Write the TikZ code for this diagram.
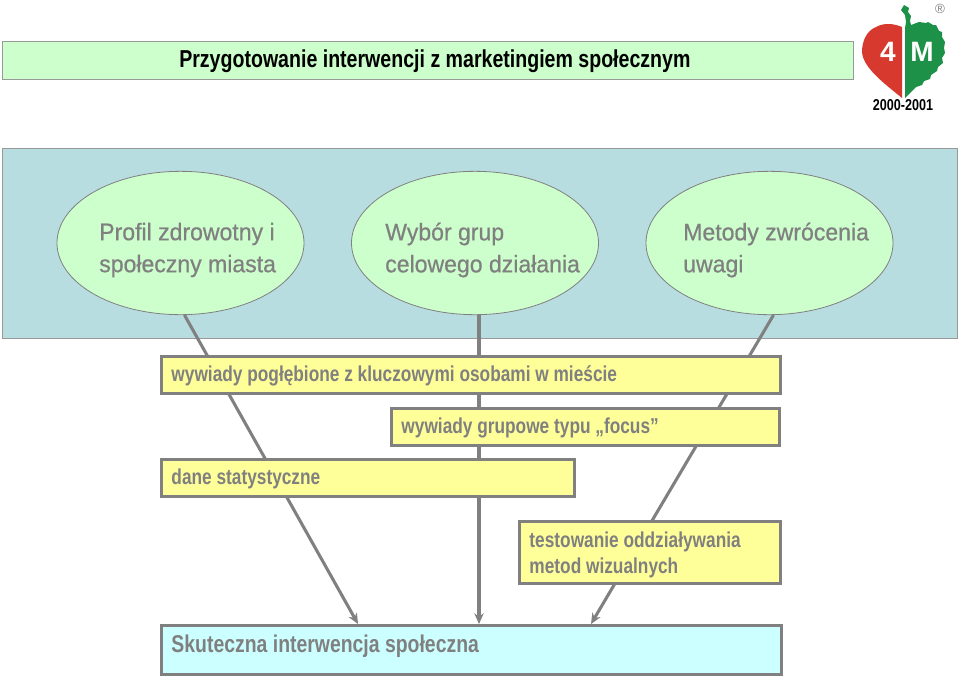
\documentclass[tikz,border=0pt]{standalone}
\usepackage{fontspec}
\usetikzlibrary{calc,arrows.meta,shapes.geometric}
\setmainfont{Liberation Sans}[FakeStretch=0.8]
\newfontfamily\wide{Liberation Sans}
\newfontfamily\ovalfont{Liberation Sans}[FakeStretch=0.96,FakeBold=0.6]
\definecolor{lgreen}{HTML}{CCFFCC}
\definecolor{bluepanel}{HTML}{B8DDE1}
\definecolor{ybox}{HTML}{FFFF99}
\definecolor{cbox}{HTML}{CCFFFF}
\definecolor{gr}{HTML}{808080}
\definecolor{redleaf}{HTML}{D8392F}
\definecolor{greenleaf}{HTML}{1E9148}
\tikzset{
  x=0.75pt,y=-0.75pt,
  panel/.style={draw=gr!80,line width=0.75pt,inner sep=0pt,anchor=north west},
  oval/.style={ellipse,draw=gr,fill=lgreen,line width=0.6pt,minimum width=185.25pt,minimum height=107.5pt,inner sep=0pt},
  ovaltext/.style={anchor=west,inner sep=0pt,align=left,text=gr,font=\ovalfont\fontsize{18}{24}\selectfont},
  bar/.style={draw=gr,fill=ybox,line width=2.2pt,inner sep=0pt,anchor=north west,text=gr,align=flush left,font=\bfseries\fontsize{16.2}{19.5}\selectfont,inner xsep=7.5pt,text height=11pt,text depth=1.2pt},
  link/.style={draw=gr,line width=2.3pt},
  linkhead/.style={link,-{Stealth[length=8pt,width=7pt]}},
}
\begin{document}
\begin{tikzpicture}
\useasboundingbox (0,0) rectangle (960,678);
\fill[white] (0,0) rectangle (960,678);
% title strip
\node[panel,fill=lgreen,minimum width=638pt,minimum height=28.5pt] (title) at (2,41) {};
\node[anchor=base west,font=\bfseries\fontsize{18.35}{20}\selectfont,text=black,inner sep=0pt] (titletext) at (179,67) {Przygotowanie interwencji z marketingiem społecznym};
% panel
\node[panel,fill=bluepanel,minimum width=716pt,minimum height=142.5pt] (blue) at (2,148) {};
% ovals
\node[oval] (e1) at (180.5,243) {};
\node[oval] (e2) at (475,243) {};
\node[oval] (e3) at (769.5,243) {};
\node[ovaltext] (t1) at (99,250) {Profil zdrowotny i\\społeczny miasta};
\node[ovaltext] (t2) at (385,250) {Wybór grup\\celowego działania};
\node[ovaltext] (t3) at (683,250) {Metody zwrócenia\\uwagi};
% final box
\node[bar,fill=cbox,minimum width=465pt,minimum height=37pt,inner xsep=7pt,font=\bfseries\fontsize{18.2}{22}\selectfont,text width=450pt,text height=9.7pt,text depth=6pt] (final) at (160,624) {Skuteczna interwencja społeczna};
% connectors
\draw[linkhead] ($(e1.south)+(4,0)$) -- ($(final.north west)+(198,0)$);
\draw[linkhead] ($(e2.south)+(4,0)$) -- ($(final.north west)+(319,0)$);
\draw[linkhead] ($(e3.south)+(4,0)$) -- ($(final.north west)+(431,0)$);
% bars
\node[bar,text width=449pt,minimum height=28pt] (b1) at (160,355) {wywiady pogłębione z kluczowymi osobami w mieście};
\node[bar,text width=276pt,minimum height=28pt] (b2) at (390,407) {wywiady grupowe typu „focus”};
\node[bar,text width=295pt,minimum height=28pt] (b3) at (160,458) {dane statystyczne};
\node[bar,text width=181pt,minimum height=46.5pt,text height=11pt,text depth=17.8pt] (b4) at (518,520) {testowanie oddziaływania\\metod wizualnych};
% logo
\fill[redleaf] (902,27) .. controls (895,24) and (885,22) .. (876,27) .. controls (866,31) and (862,42) .. (862,52) .. controls (863,68) and (885,84) .. (902,98) -- cycle;
\fill[greenleaf] (904,5) -- (909,8) -- (908,12) -- (911,16) -- (910,21) -- (911,25) -- (919,22) -- (926,23) -- (928,22) -- (933,25) -- (936,25) -- (939,31) -- (942,32) -- (942,37) -- (945,42) -- (944,48) -- (945,53) -- (942,58) -- (943,63) -- (938,67) -- (937,71) -- (931,75) -- (930,79) -- (924,81) -- (922,85) -- (916,87) -- (905,98) -- (905,28) -- (906,22) -- (905,15) -- (901,10) -- cycle;
\node[text=white,font=\wide\bfseries\fontsize{21}{21}\selectfont,inner sep=0pt] (four) at (888,52) {4};
\node[text=white,font=\wide\bfseries\fontsize{21}{21}\selectfont,inner sep=0pt] (em) at (922,52) {M};
\node[text=black,font=\bfseries\fontsize{11.8}{12}\selectfont,inner sep=0pt] (years) at (903,105) {2000-2001};
\node[text=gr,font=\wide\fontsize{10}{10}\selectfont,inner sep=0pt] (reg) at (940,9) {®};
\end{tikzpicture}
\end{document}
